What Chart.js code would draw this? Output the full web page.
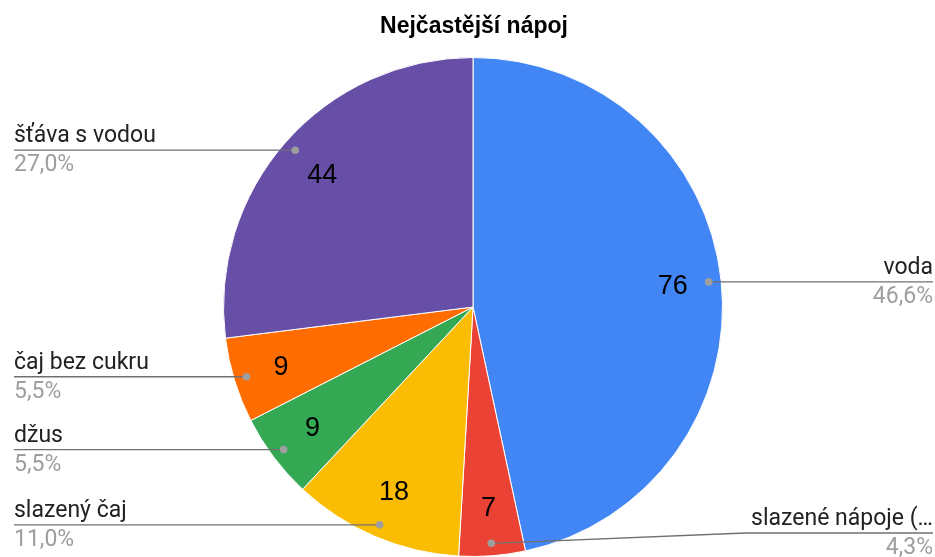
<!DOCTYPE html>
<html><head><meta charset="utf-8">
<script src="https://cdn.jsdelivr.net/npm/chart.js@4/dist/chart.umd.min.js"></script>
<style>html,body{margin:0;padding:0;background:#fff}#wrap{width:935px;height:557px;position:relative}</style>
</head><body><div id="wrap"><canvas id="c" width="935" height="557"></canvas></div>
<script>
const title = "Nejčastější nápoj";
const categories = ["voda", "slazené nápoje (…", "slazený čaj", "džus", "čaj bez cukru", "šťáva s vodou"];
const values = [76, 7, 18, 9, 9, 44];
const colors = ["#4285F4", "#EA4335", "#FBBC04", "#34A853", "#FF6D01", "#674EA7"];

const total = values.reduce((a, b) => a + b, 0);
const pct = v => (v / total * 100).toFixed(1).replace('.', ',') + '%';

const labelPlugin = {
  id: 'sheetLabels',
  afterDraw(chart) {
    const ctx = chart.ctx;
    const W = chart.width, H = chart.height;
    const meta = chart.getDatasetMeta(0);
    ctx.save();
    // title
    ctx.font = 'bold 23px "Liberation Sans", Arial, sans-serif';
    ctx.fillStyle = '#000';
    ctx.textAlign = 'center';
    ctx.textBaseline = 'alphabetic';
    ctx.fillText(title, 474, 33);
    meta.data.forEach((arc, i) => {
      const p = arc.getProps(['x', 'y', 'startAngle', 'endAngle', 'outerRadius'], true);
      const mid = (p.startAngle + p.endAngle) / 2;
      const cx = Math.cos(mid), cy = Math.sin(mid);
      // value inside
      const vr = p.outerRadius * 0.805;
      ctx.font = '27px "Liberation Sans", Arial, sans-serif';
      ctx.fillStyle = '#000';
      ctx.textAlign = 'center';
      ctx.textBaseline = 'middle';
      ctx.fillText(String(values[i]), p.x + cx * vr, p.y + cy * vr + 1);
      // leader
      const dr = p.outerRadius * 0.95;
      const dx = p.x + cx * dr, dy = p.y + cy * dr;
      const ly = Math.min(dy, H - 24);
      const right = cx > 0;
      ctx.font = '23px Roboto, sans-serif';
      ctx.strokeStyle = '#707070';
      ctx.lineWidth = 1.3;
      ctx.beginPath();
      if (right) {
        const tw = ctx.measureText(categories[i]).width;
        const tx = W - 2 - tw;
        ctx.moveTo(dx, dy);
        if (Math.abs(ly - dy) > 0.5) ctx.lineTo(tx - 6, ly);
        ctx.lineTo(W - 2, ly);
      } else {
        ctx.moveTo(dx, dy);
        if (Math.abs(ly - dy) > 0.5) ctx.lineTo(160, ly);
        ctx.lineTo(14, ly);
      }
      ctx.stroke();
      ctx.fillStyle = '#9e9e9e';
      ctx.beginPath();
      ctx.arc(dx, dy, 3.8, 0, Math.PI * 2);
      ctx.fill();
      ctx.textBaseline = 'alphabetic';
      ctx.textAlign = right ? 'right' : 'left';
      const tx = right ? W - 2 : 14;
      ctx.fillStyle = '#222';
      ctx.fillText(categories[i], tx, ly - 8);
      ctx.fillStyle = '#9e9e9e';
      ctx.fillText(pct(values[i]), tx, ly + 21);
    });
    ctx.restore();
  }
};

new Chart(document.getElementById('c'), {
  type: 'pie',
  data: {
    labels: categories,
    datasets: [{ data: values, backgroundColor: colors, borderColor: '#ffffff', borderWidth: 1 }]
  },
  options: {
    responsive: false,
    animation: false,
    layout: { padding: { top: 57, left: 223, right: 212, bottom: 0 } },
    plugins: { legend: { display: false }, title: { display: false }, tooltip: { enabled: false } }
  },
  plugins: [labelPlugin]
});
</script>
</body></html>
